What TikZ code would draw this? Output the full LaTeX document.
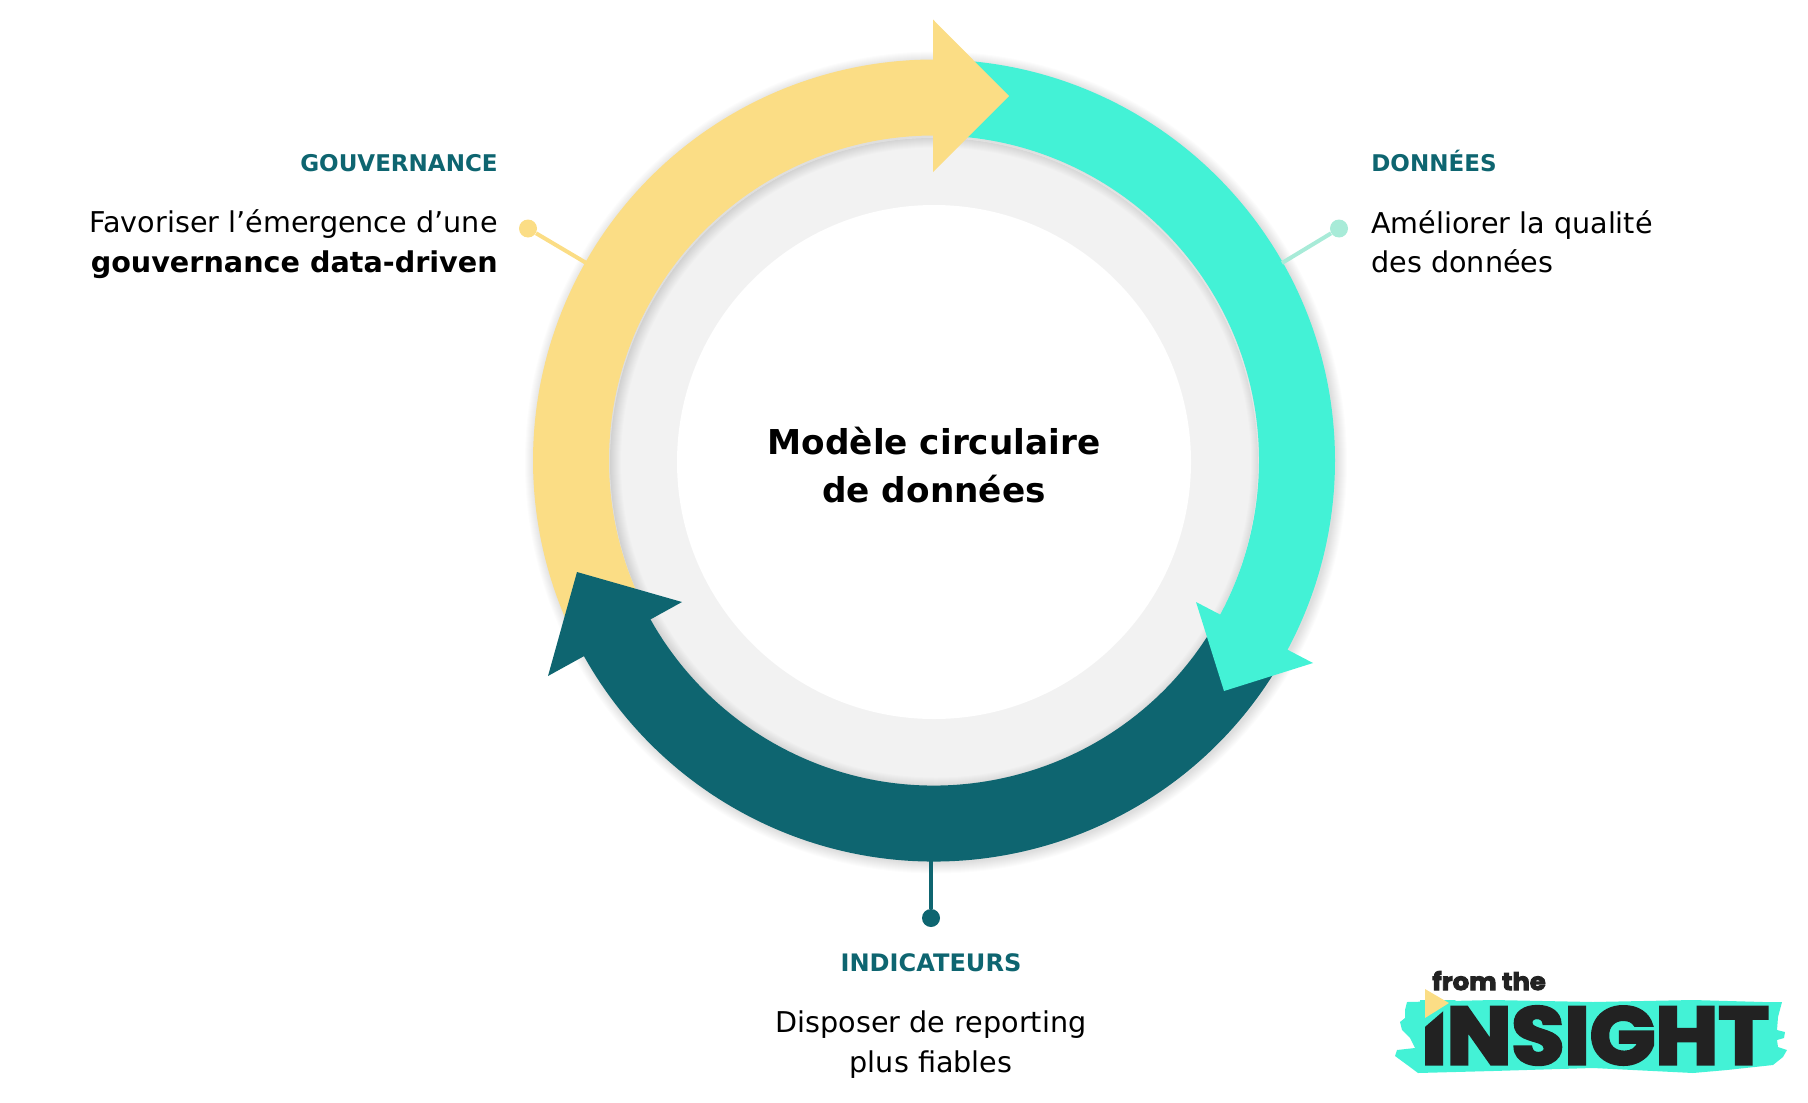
\documentclass[tikz,border=0pt]{standalone}
\usepackage{fontspec}
\setmainfont{DejaVu Sans}
\newfontfamily\logofont[BoldFeatures={FakeBold=4,FakeStretch=1.065}]{Poppins}
\usepackage{xcolor}
\usetikzlibrary{positioning}
\definecolor{gouvyellow}{HTML}{FBDD85}
\definecolor{dataturq}{HTML}{43F2D6}
\definecolor{indicdark}{HTML}{0E6570}
\definecolor{ringgrey}{HTML}{F2F2F2}
\definecolor{datalink}{HTML}{A8EBD8}
\definecolor{logoink}{HTML}{222222}
\tikzset{
  band/.style={line width=1.52cm},
  headtitle/.style={inner sep=0pt, text=indicdark, font=\fontsize{13.1}{16}\selectfont\bfseries},
  bodytext/.style={inner sep=0pt, font=\fontsize{16.3}{22.4}\selectfont},
  dot/.style={circle, inner sep=0pt, minimum size=0.36cm},
}

\begin{document}
\begin{tikzpicture}[x=0.02cm,y=0.02cm]
  \useasboundingbox (0,0) rectangle (1808,-1102);
  \coordinate (ctr) at (934,-460.5);

  % Grey ring
  \fill[ringgrey] (934,-462) circle[radius=324];
  \fill[white] (934,-462) circle[radius=257];

  % Soft shadow of the bands
  \foreach \w in {76,78,...,96}
    \draw[black, opacity=0.012, line width=\w*0.02cm] ([shift={(2,-2)}]ctr) circle[radius=363];

  % Bands
  \draw[band, dataturq] (ctr) ++(90:363) arc[start angle=90, end angle=-29, radius=363];
  \draw[band, indicdark] (ctr) ++(-30:363) arc[start angle=-30, end angle=-152, radius=363];
  \draw[band, gouvyellow] (ctr) ++(205:363) arc[start angle=205, end angle=90, radius=363];

  % Arrow heads
  \fill[dataturq] (1196,-602) -- (1224,-691) -- (1313,-663) -- cycle;
  \fill[indicdark] (577,-572) -- (682,-602) -- (548,-676) -- cycle;
  \fill[gouvyellow] (933,-19.5) -- (1009,-96) -- (933,-172) -- cycle;

  % Centre
  \node[inner sep=0pt, align=center, font=\fontsize{19.5}{26.8}\selectfont\bfseries] (title) at (934,-465) {Modèle circulaire\\de données};

  % Gouvernance
  \node[headtitle, anchor=east] (gouvhead) at (498,-163) {GOUVERNANCE};
  \node[bodytext, anchor=east, align=right] (gouvtext) at (498,-244) {Favoriser l’émergence d’une\\\textbf{gouvernance data-driven}};
  \node[dot, fill=gouvyellow] (gouvdot) at (528,-228.5) {};
  \coordinate (gouvend) at (588,-264);
  \draw[gouvyellow, line width=0.08cm] (gouvdot) -- (gouvend);

  % Donnees
  \node[headtitle, anchor=west] (datahead) at (1371,-161) {DONNÉES};
  \node[bodytext, anchor=west, align=left] (datatext) at (1371,-242) {Améliorer la qualité\\des données};
  \node[dot, fill=datalink] (datadot) at (1339,-228.5) {};
  \coordinate (dataend) at (1282,-263);
  \draw[datalink, line width=0.08cm] (datadot) -- (dataend);

  % Indicateurs
  \node[headtitle, font=\fontsize{13.7}{16}\selectfont\bfseries] (indichead) at (931,-963) {INDICATEURS};
  \node[bodytext, align=center] (indictext) at (931,-1044.5) {Disposer de reporting\\plus fiables};
  \node[dot, fill=indicdark] (indicdot) at (931,-918) {};
  \coordinate (indicend) at (931,-861);
  \draw[indicdark, line width=0.08cm] (indicdot) -- (indicend);

  % Logo
  \fill[dataturq] (1407,-1002) -- (1493,-1000) -- (1593,-1002) -- (1693,-1000) -- (1763,-1002)
    -- (1782,-1002) -- (1778,-1017) -- (1777,-1030) -- (1785,-1032) -- (1784,-1038) -- (1777,-1040)
    -- (1778,-1047) -- (1787,-1050) -- (1783,-1057) -- (1773,-1065) -- (1727,-1070) -- (1693,-1073)
    -- (1593,-1068) -- (1493,-1071) -- (1418,-1073) -- (1410,-1067) -- (1395,-1056) -- (1397,-1050)
    -- (1415,-1048) -- (1410,-1038) -- (1402,-1030) -- (1400,-1022) -- (1405,-1018) -- (1405,-1010) -- cycle;
  \node[inner sep=0pt, anchor=base west, text=logoink, font=\logofont\fontsize{46}{46}\selectfont\bfseries] (insight) at (1421,-1064) {INSIGHT};
  \fill[dataturq] (1420,-1000) -- (1456,-1000) -- (1420,-1031) -- cycle;
  \fill[gouvyellow] (1425,-989) -- (1449,-1003) -- (1425,-1018) -- cycle;
  \node[inner sep=0pt, anchor=base west, text=logoink, font=\logofont\fontsize{13.8}{14}\selectfont\bfseries] (fromthe) at (1432,-990) {from the};
\end{tikzpicture}
\end{document}
